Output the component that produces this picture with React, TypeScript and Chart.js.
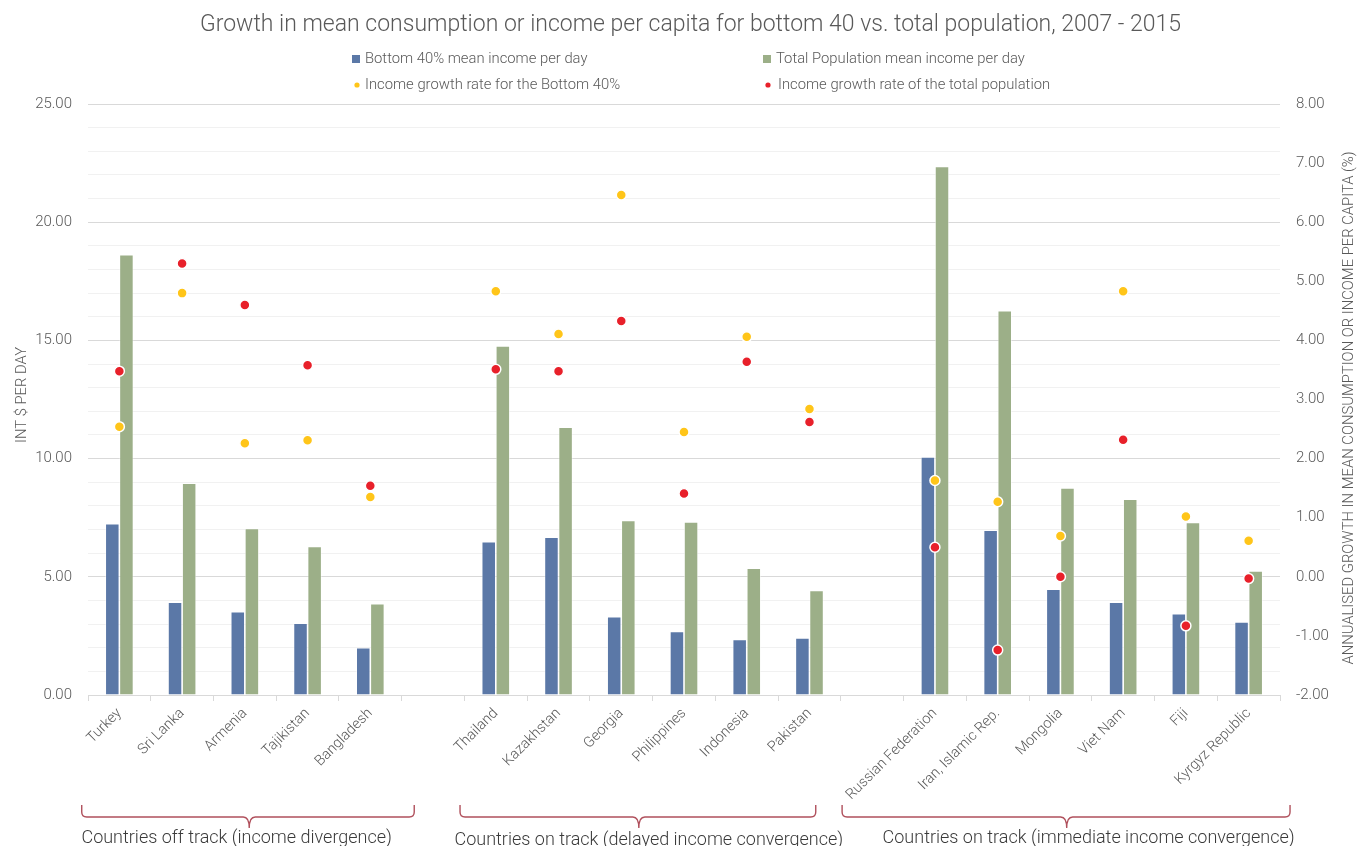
import React, { useEffect, useRef } from 'react';
import { Chart, registerables } from 'chart.js';

Chart.register(...registerables);

// ---------- DATA ----------
const categories: string[] = [
  'Turkey', 'Sri Lanka', 'Armenia', 'Tajikistan', 'Bangladesh', '',
  'Thailand', 'Kazakhstan', 'Georgia', 'Philippines', 'Indonesia', 'Pakistan', '',
  'Russian Federation', 'Iran, Islamic Rep.', 'Mongolia', 'Viet Nam', 'Fiji', 'Kyrgyz Republic',
];

const bottom40Income: (number | null)[] = [
  7.25, 3.93, 3.52, 3.04, 2.0, null,
  6.48, 6.68, 3.31, 2.69, 2.35, 2.41, null,
  10.07, 6.97, 4.48, 3.93, 3.44, 3.09,
];

const totalIncome: (number | null)[] = [
  18.62, 8.96, 7.04, 6.28, 3.86, null,
  14.76, 11.33, 7.38, 7.32, 5.36, 4.42, null,
  22.36, 16.26, 8.76, 8.28, 7.3, 5.25,
];

const bottom40Growth: (number | null)[] = [
  2.54, 4.8, 2.26, 2.31, 1.35, null,
  4.83, 4.11, 6.46, 2.45, 4.06, 2.84, null,
  1.63, 1.27, 0.69, 4.83, 1.02, 0.61,
];

const totalGrowth: (number | null)[] = [
  3.48, 5.3, 4.6, 3.58, 1.54, null,
  3.51, 3.48, 4.33, 1.41, 3.64, 2.62, null,
  0.5, -1.24, 0.0, 2.32, -0.83, -0.03,
];

const seriesNames = [
  'Bottom 40% mean income per day',
  'Total Population mean income per day',
  'Income growth rate for the Bottom 40%',
  'Income growth rate of the total population',
];

const groupNames = [
  'Countries off track (income divergence)',
  'Countries on track (delayed income convergence)',
  'Countries on track (immediate income convergence)',
];

const titleText = 'Growth in mean consumption or income per capita for bottom 40 vs. total population, 2007 - 2015';
const leftAxisTitle = 'INT $ PER DAY';
const rightAxisTitle = 'ANNUALISED GROWTH IN MEAN CONSUMPTION OR INCOME PER CAPITA (%)';

// ---------- STYLE ----------
const FONT = 'Roboto, "Noto Sans", sans-serif';
const BLUE = '#5B78A7';
const GREEN = '#9CAF88';
const YELLOW = '#FFC519';
const RED = '#E8202A';
const TEXT = '#595959';
const BRACKET = '#B0505C';

// bracket layout in category units: [left, right, cusp, textCenter, baselineY]
const bracketLayout: [number, number, number, number, number][] = [
  [-0.6, 4.7, 2.07, 1.87, 843],
  [5.43, 11.1, 8.28, 8.44, 845],
  [11.52, 18.66, 15.1, 15.45, 843],
];

const decorPlugin = {
  id: 'decor',
  afterDraw(chart: any) {
    const { ctx, scales } = chart;
    const xs = scales.x;
    const catW = (xs.right - xs.left) / categories.length;
    const px = (v: number) => xs.left + catW * (v + 0.5);
    const W = chart.width;

    ctx.save();
    // Title
    ctx.fillStyle = TEXT;
    ctx.font = `300 23px ${FONT}`;
    ctx.textAlign = 'center';
    ctx.textBaseline = 'middle';
    ctx.fillText(titleText, W / 2 + 12, 25);

    // Legend
    ctx.font = `300 14.8px ${FONT}`;
    ctx.textAlign = 'left';
    ctx.textBaseline = 'middle';
    const r1 = 59, r2 = 85;
    ctx.fillStyle = BLUE;
    ctx.fillRect(352, r1 - 4, 8, 8);
    ctx.fillStyle = TEXT;
    ctx.fillText(seriesNames[0], 365, r1);
    ctx.fillStyle = GREEN;
    ctx.fillRect(763, r1 - 4, 8, 8);
    ctx.fillStyle = TEXT;
    ctx.fillText(seriesNames[1], 776, r1);
    ctx.fillStyle = YELLOW;
    ctx.beginPath(); ctx.arc(357, r2, 2.6, 0, Math.PI * 2); ctx.fill();
    ctx.fillStyle = TEXT;
    ctx.fillText(seriesNames[2], 365, r2);
    ctx.fillStyle = RED;
    ctx.beginPath(); ctx.arc(768, r2, 2.6, 0, Math.PI * 2); ctx.fill();
    ctx.fillStyle = TEXT;
    ctx.fillText(seriesNames[3], 778, r2);

    // Axis titles
    ctx.font = `300 14.8px ${FONT}`;
    ctx.textAlign = 'center';
    ctx.textBaseline = 'middle';
    ctx.save();
    ctx.translate(22, 395);
    ctx.rotate(-Math.PI / 2);
    ctx.fillText(leftAxisTitle, 0, 0);
    ctx.restore();
    ctx.save();
    ctx.translate(1349, 408);
    ctx.rotate(-Math.PI / 2);
    ctx.fillText(rightAxisTitle, 0, 0);
    ctx.restore();

    // Brackets + group labels
    const top = 805, hy = 817, tip = 828, rad = 5;
    ctx.strokeStyle = BRACKET;
    ctx.lineWidth = 1.4;
    bracketLayout.forEach(([l, r, c, t, by], i) => {
      const L = px(l), R = px(r), C = px(c);
      ctx.beginPath();
      ctx.moveTo(L, top);
      ctx.lineTo(L, hy - rad);
      ctx.quadraticCurveTo(L, hy, L + rad, hy);
      ctx.lineTo(C - 6, hy);
      ctx.quadraticCurveTo(C, hy, C, tip);
      ctx.quadraticCurveTo(C, hy, C + 6, hy);
      ctx.lineTo(R - rad, hy);
      ctx.quadraticCurveTo(R, hy, R, hy - rad);
      ctx.lineTo(R, top);
      ctx.stroke();

      ctx.fillStyle = '#3a3a3a';
      ctx.font = `300 18px ${FONT}`;
      ctx.textAlign = 'center';
      ctx.textBaseline = 'alphabetic';
      ctx.fillText(groupNames[i], px(t), by);
    });
    ctx.restore();
  },
};

export default function App() {
  const ref = useRef<HTMLCanvasElement | null>(null);

  useEffect(() => {
    if (!ref.current) return;
    const chart = new Chart(ref.current, {
      type: 'bar',
      data: {
        labels: categories,
        datasets: [
          {
            type: 'line',
            label: seriesNames[2],
            data: bottom40Growth,
            yAxisID: 'y1',
            showLine: false,
            pointRadius: 5,
            pointBackgroundColor: YELLOW,
            pointBorderColor: '#ffffff',
            pointBorderWidth: 1.5,
            order: 0,
          } as any,
          {
            type: 'line',
            label: seriesNames[3],
            data: totalGrowth,
            yAxisID: 'y1',
            showLine: false,
            pointRadius: 5,
            pointBackgroundColor: RED,
            pointBorderColor: '#ffffff',
            pointBorderWidth: 1.5,
            order: 0,
          } as any,
          {
            label: seriesNames[0],
            data: bottom40Income,
            backgroundColor: BLUE,
            borderColor: 'rgba(255,255,255,0.7)',
            borderWidth: 0.8,
            yAxisID: 'y',
            categoryPercentage: 0.45,
            barPercentage: 1.0,
            order: 1,
          },
          {
            label: seriesNames[1],
            data: totalIncome,
            backgroundColor: GREEN,
            borderColor: 'rgba(255,255,255,0.7)',
            borderWidth: 0.8,
            yAxisID: 'y',
            categoryPercentage: 0.45,
            barPercentage: 1.0,
            order: 1,
          },
        ],
      },
      options: {
        responsive: false,
        animation: false,
        events: [],
        layout: { padding: { top: 104, left: 0, right: 0, bottom: 0 } },
        plugins: {
          legend: { display: false },
          title: { display: false },
          tooltip: { enabled: false },
        },
        scales: {
          x: {
            offset: true,
            grid: {
              display: true,
              drawOnChartArea: false,
              drawTicks: true,
              tickLength: 6,
              color: '#d9d9d9',
              offset: true,
            },
            border: { display: true, color: '#d9d9d9' },
            ticks: {
              autoSkip: false,
              minRotation: 45,
              maxRotation: 45,
              padding: 4,
              color: TEXT,
              font: { family: FONT, size: 14.5, weight: '300' as any },
            },
            afterFit: (s: any) => { s.height = 151; },
          },
          y: {
            position: 'left',
            min: 0,
            max: 25,
            grid: {
              drawTicks: false,
              color: (c: any) => (c.tick && c.tick.value % 5 === 0 ? '#d9d9d9' : '#f1f1f1'),
              lineWidth: 1,
            },
            border: { display: false },
            ticks: {
              stepSize: 1,
              padding: 16,
              color: TEXT,
              font: { family: FONT, size: 15, weight: '300' as any },
              callback: (v: any) => (Number(v) % 5 === 0 ? Number(v).toFixed(2) : ''),
            },
            afterFit: (s: any) => { s.width = 88; },
          },
          y1: {
            position: 'right',
            min: -2,
            max: 8,
            grid: { display: false, drawTicks: false },
            border: { display: false },
            ticks: {
              stepSize: 1,
              padding: 16,
              color: TEXT,
              font: { family: FONT, size: 15, weight: '300' as any },
              callback: (v: any) => Number(v).toFixed(2),
            },
            afterFit: (s: any) => { s.width = 77; },
          },
        },
      },
      plugins: [decorPlugin],
    });
    return () => chart.destroy();
  }, []);

  return (
    <div style={{ position: 'fixed', left: 0, top: 0, width: 1357, height: 846, background: '#fff' }}>
      <canvas ref={ref} width={1357} height={846} style={{ width: 1357, height: 846, display: 'block' }} />
    </div>
  );
}
